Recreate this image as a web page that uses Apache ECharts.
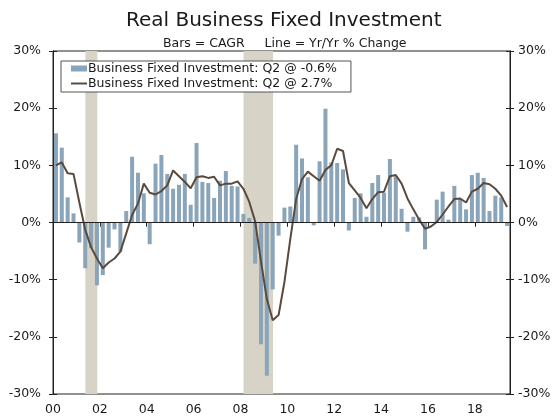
<!DOCTYPE html>
<html>
<head>
<meta charset="utf-8">
<script src="https://cdn.jsdelivr.net/npm/echarts@6/dist/echarts.min.js"></script>
<style>
  html, body { margin: 0; padding: 0; background: #fff; }
  #chart { width: 556px; height: 417px; }
</style>
</head>
<body>
<div id="chart"></div>
<script>
// quarterly, 2000 Q1 .. 2019 Q2
const startYear = 2000;

// bars: CAGR (annualized q/q)
const cagr = [
  15.6, 13.1, 4.4, 1.6, -3.5, -8.0, -4.5, -11.0, -9.2, -4.4, -1.2, -5.1,
  2.0, 11.5, 8.7, 5.1, -3.8, 10.3, 11.8, 8.5, 5.9, 6.6, 8.5, 3.1,
  13.9, 7.1, 6.9, 4.3, 7.3, 9.0, 6.4, 6.3, 1.5, 0.8, -7.2, -21.3,
  -26.8, -11.7, -2.3, 2.6, 2.8, 13.6, 11.2, 7.9, -0.5, 10.7, 19.9, 10.5,
  10.4, 9.3, -1.4, 4.3, 5.1, 1.0, 6.9, 8.3, 5.2, 11.1, 8.1, 2.4,
  -1.6, 1.0, 0.9, -4.7, 0.1, 4.0, 5.4, 0.5, 6.4, 4.1, 2.3, 8.3,
  8.7, 7.8, 2.0, 4.7, 4.4, -0.6
];

// line: yr/yr % change
const yoy = [
  10.0, 10.5, 8.6, 8.5, 3.5, -1.3, -4.3, -6.3, -8.0, -7.0, -6.3, -5.1,
  -1.9, 1.3, 3.3, 6.8, 5.2, 4.9, 5.5, 6.5, 9.1, 8.1, 7.1, 6.0,
  7.9, 8.1, 7.8, 8.0, 6.5, 6.8, 6.8, 7.2, 5.9, 3.6, 0.2, -6.8,
  -13.4, -17.1, -16.2, -10.4, -2.9, 4.1, 7.6, 8.9, 8.1, 7.3, 9.2, 10.0,
  12.9, 12.5, 6.9, 5.6, 4.3, 2.5, 4.1, 5.3, 5.4, 8.1, 8.3, 6.8,
  4.2, 2.3, 0.5, -1.1, -0.7, 0.1, 1.4, 2.8, 4.1, 4.2, 3.5, 5.4,
  5.9, 6.9, 6.7, 5.9, 4.7, 2.7
];

// recession shading (fractional years)
const recessions = [[2001.38, 2001.89], [2008.13, 2009.39]];

const barName = 'Business Fixed Investment: Q2 @ -0.6%';
const lineName = 'Business Fixed Investment: Q2 @ 2.7%';

const qx = i => startYear + (i + 0.5) / 4;
const barData = cagr.map((v, i) => [qx(i), v]);
const lineData = yoy.map((v, i) => [qx(i), v]);

const font = 'DejaVu Sans, Verdana, sans-serif';
const axisColor = '#222';
const textColor = '#1a1a1a';

const xBase = {
  type: 'value', min: 2000, max: 2019.5, interval: 2,
  splitLine: { show: false },
  axisLine: { show: false }
};
const yBase = {
  type: 'value', min: -30, max: 30, interval: 10,
  splitLine: { show: false },
  axisLine: { show: true, lineStyle: { color: axisColor } }
};

const chart = echarts.init(document.getElementById('chart'), null, { renderer: 'canvas' });

chart.setOption({
  animation: false,
  backgroundColor: '#fff',
  textStyle: { fontFamily: font },
  title: [
    {
      text: 'Real Business Fixed Investment',
      left: 121, top: 6,
      textStyle: { fontFamily: font, fontSize: 20, fontWeight: 'normal', color: textColor }
    },
    {
      text: 'Bars = CAGR     Line = Yr/Yr % Change',
      left: 158, top: 32,
      textStyle: { fontFamily: font, fontSize: 12.5, fontWeight: 'normal', color: textColor }
    }
  ],
  legend: {
    orient: 'vertical',
    left: 61, top: 61,
    padding: [1, 14, 2, 10],
    itemGap: 2,
    itemWidth: 16, itemHeight: 6,
    backgroundColor: '#fff',
    borderColor: '#555', borderWidth: 1,
    textStyle: { fontFamily: font, fontSize: 12.5, color: textColor, padding: [0, 0, 0, -4] },
    data: [
      { name: barName, icon: 'rect' },
      { name: lineName, icon: 'path://M0,0L16,0L16,2L0,2Z' }
    ]
  },
  grid: {
    left: 53, right: 46, top: 51, bottom: 23,
    show: true, borderColor: axisColor, borderWidth: 1, backgroundColor: 'transparent'
  },
  xAxis: [
    Object.assign({}, xBase, {
      axisTick: { show: true, length: 4, lineStyle: { color: axisColor } },
      axisLabel: {
        margin: 9, fontSize: 12.5, color: textColor, fontFamily: font,
        formatter: v => (v % 2 === 0 && v < 2019) ? String(v % 100).padStart(2, '0') : ''
      }
    }),
    Object.assign({}, xBase, {
      axisTick: { show: true, inside: true, length: 4, lineStyle: { color: axisColor } },
      axisLabel: { show: false }
    })
  ],
  yAxis: [
    Object.assign({}, yBase, {
      position: 'left',
      axisTick: { show: true, length: 4, lineStyle: { color: axisColor } },
      axisLabel: { margin: 12, fontSize: 12.5, color: textColor, fontFamily: font, formatter: '{value}%' }
    }),
    Object.assign({}, yBase, {
      position: 'right',
      axisTick: { show: true, length: 4, lineStyle: { color: axisColor } },
      axisLabel: { margin: 8, fontSize: 12.5, color: textColor, fontFamily: font, formatter: '{value}%' }
    }),
    Object.assign({}, yBase, {
      position: 'left',
      axisTick: { show: true, inside: true, length: 4, lineStyle: { color: axisColor } },
      axisLabel: { show: false }
    }),
    Object.assign({}, yBase, {
      position: 'right',
      axisTick: { show: true, inside: true, length: 4, lineStyle: { color: axisColor } },
      axisLabel: { show: false }
    })
  ],
  series: [
    {
      name: barName,
      type: 'bar',
      data: barData,
      barWidth: 4,
      itemStyle: { color: '#8AA5B9' },
      markArea: {
        silent: true,
        itemStyle: { color: '#D7D3C6' },
        data: recessions.map(r => [{ xAxis: r[0] }, { xAxis: r[1] }])
      },
      markLine: {
        silent: true,
        symbol: 'none',
        label: { show: false },
        lineStyle: { color: axisColor, width: 1, type: 'solid' },
        data: [{ yAxis: 0 }]
      }
    },
    {
      name: lineName,
      type: 'line',
      data: lineData,
      symbol: 'none',
      lineStyle: { color: '#5A4A3E', width: 2 },
      itemStyle: { color: '#5A4A3E' },
      z: 3
    }
  ]
});
</script>
</body>
</html>
